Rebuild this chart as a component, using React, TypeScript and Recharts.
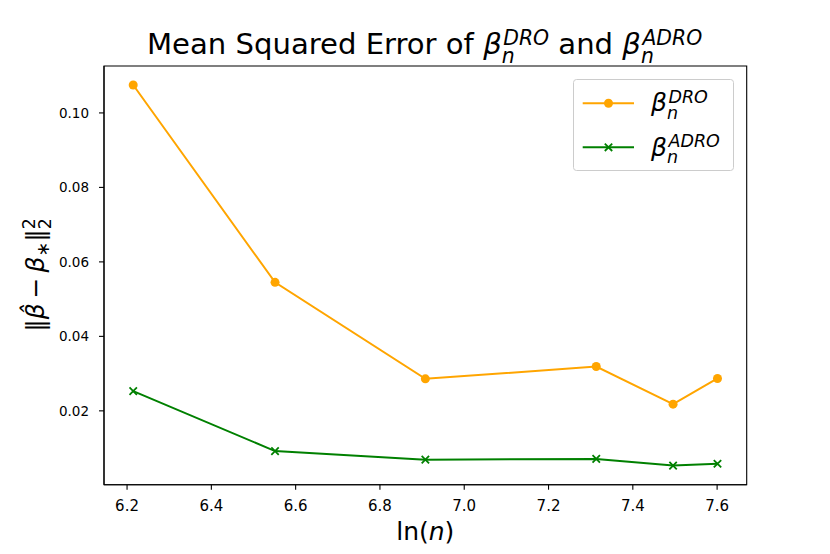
import { LineChart, Line, XAxis, YAxis, Legend, ReferenceArea } from "recharts";

const xVals = [6.2146, 6.5511, 6.9078, 7.3132, 7.4955, 7.6009];
const droVals = [0.1075, 0.0545, 0.0286, 0.0319, 0.0218, 0.0287];
const adroVals = [0.0253, 0.0092, 0.0069, 0.0071, 0.0053, 0.0058];

const xTicks = [6.2, 6.4, 6.6, 6.8, 7.0, 7.2, 7.4, 7.6];
const yTicks = [0.02, 0.04, 0.06, 0.08, 0.1];

const rows = xVals.map((x, i) => ({ x, dro: droVals[i], adro: adroVals[i] }));

const ORANGE = "#ffa500";
const GREEN = "#008000";
const FONT = "DejaVu Sans";

const xDomain = [6.1453, 7.6702];
const yDomain = [0.00017, 0.1126];

function Cross(props: any) {
  const { cx, cy, index } = props;
  if (cx == null || cy == null) return <g key={`c-${index}`} />;
  const s = 3.7;
  return (
    <path
      key={`c-${index}`}
      d={`M${cx - s},${cy - s}L${cx + s},${cy + s}M${cx - s},${cy + s}L${cx + s},${cy - s}`}
      stroke={GREEN}
      strokeWidth={1.8}
      fill="none"
    />
  );
}

// beta with stacked sup/sub, drawn as two texts sharing the same start
function Beta({ x, y, size, sup }: { x: number; y: number; size: number; sup: string }) {
  const small = size * 0.7;
  return (
    <g fontFamily={FONT}>
      <text x={x} y={y} fontSize={size} fill="#000">
        <tspan fontStyle="italic">β</tspan>
        <tspan fontStyle="italic" fontSize={small} dx={1.5} dy={-0.33 * size}>
          {sup}
        </tspan>
      </text>
      <text x={x} y={y} fontSize={size} fill="#000">
        <tspan fontStyle="italic" fill="transparent">β</tspan>
        <tspan fontStyle="italic" fontSize={small} dy={0.3 * size}>
          n
        </tspan>
      </text>
    </g>
  );
}

function LegendBox() {
  return (
    <svg width={161} height={92} style={{ display: "block" }}>
      <rect x={0.5} y={0.5} width={160} height={91} rx={3} fill="#fff" fillOpacity={0.8} stroke="#cccccc" />
      <line x1={9.7} x2={61} y1={24.3} y2={24.3} stroke={ORANGE} strokeWidth={2} />
      <circle cx={35.5} cy={24.3} r={4.5} fill={ORANGE} />
      <line x1={9.7} x2={61} y1={68.3} y2={68.3} stroke={GREEN} strokeWidth={2} />
      <Cross cx={35.5} cy={68.3} index={0} />
      <Beta x={78} y={32} size={25} sup="DRO" />
      <Beta x={78} y={76.5} size={25} sup="ADRO" />
    </svg>
  );
}

export default function App() {
  const ts = 29.1;
  const sm = ts * 0.7;
  const yl = 25;
  return (
    <div style={{ position: "absolute", left: 0, top: 0, width: 830, height: 554, background: "#fff" }}>
      <LineChart width={830} height={554} data={rows} margin={{ top: 66, right: 83.3, bottom: 39.3, left: 44 }}>
        <XAxis
          dataKey="x"
          type="number"
          domain={xDomain}
          allowDataOverflow
          ticks={xTicks}
          interval={0}
          tickFormatter={(v: number) => v.toFixed(1)}
          tick={{ fontSize: 15, fill: "#000", fontFamily: FONT }}
          tickSize={5}
          tickMargin={10.5}
          height={30}
          axisLine={{ stroke: "#000", strokeWidth: 1.1 }}
          tickLine={{ stroke: "#000", strokeWidth: 1.1 }}
        />
        <YAxis
          type="number"
          domain={yDomain}
          allowDataOverflow
          ticks={yTicks}
          interval={0}
          tickFormatter={(v: number) => v.toFixed(2)}
          tick={{ fontSize: 13.5, fill: "#000", fontFamily: FONT }}
          tickSize={5}
          tickMargin={10}
          width={60}
          axisLine={{ stroke: "#000", strokeWidth: 1.1 }}
          tickLine={{ stroke: "#000", strokeWidth: 1.1 }}
        />
        {/* frame around the plot area */}
        <ReferenceArea
          x1={xDomain[0]}
          x2={xDomain[1]}
          y1={yDomain[0]}
          y2={yDomain[1]}
          fill="none"
          fillOpacity={0}
          stroke="#000"
          strokeWidth={1.1}
          ifOverflow="visible"
        />
        <Legend
          layout="vertical"
          align="center"
          verticalAlign="middle"
          wrapperStyle={{ left: 573, top: 79, width: 161, height: 92 }}
          content={() => <LegendBox />}
        />
        <Line
          dataKey="dro"
          stroke={ORANGE}
          strokeWidth={2}
          dot={{ r: 4.5, fill: ORANGE, stroke: ORANGE, strokeWidth: 0 }}
          activeDot={false}
          isAnimationActive={false}
        />
        <Line
          dataKey="adro"
          stroke={GREEN}
          strokeWidth={2}
          dot={(p: any) => <Cross key={`x-${p.index}`} {...p} />}
          activeDot={false}
          isAnimationActive={false}
        />
      </LineChart>

      <svg
        width={830}
        height={554}
        style={{ position: "absolute", left: 0, top: 0, pointerEvents: "none" }}
        fontFamily={FONT}
      >
        {/* title */}
        <text x={147} y={54.3} fontSize={ts} fill="#000" style={{ whiteSpace: "pre" }}>
          <tspan>{"Mean Squared Error of "}</tspan>
          <tspan fontStyle="italic">β</tspan>
          <tspan fontStyle="italic" fontSize={sm} dx={1.5} dy={-9.3}>DRO</tspan>
          <tspan dy={9.3}>{" and "}</tspan>
          <tspan fontStyle="italic">β</tspan>
          <tspan fontStyle="italic" fontSize={sm} dx={1.5} dy={-9.3}>ADRO</tspan>
        </text>
        <text x={147} y={54.3} fontSize={ts} fill="transparent" style={{ whiteSpace: "pre" }}>
          <tspan>{"Mean Squared Error of "}</tspan>
          <tspan fontStyle="italic">β</tspan>
          <tspan fontStyle="italic" fontSize={sm} dy={8.4} fill="#000">n</tspan>
        </text>
        <text x={147} y={54.3} fontSize={ts} fill="transparent" style={{ whiteSpace: "pre" }}>
          <tspan>{"Mean Squared Error of "}</tspan>
          <tspan fontStyle="italic">β</tspan>
          <tspan fontStyle="italic" fontSize={sm} dx={1.5}>DRO</tspan>
          <tspan>{" and "}</tspan>
          <tspan fontStyle="italic">β</tspan>
          <tspan fontStyle="italic" fontSize={sm} dy={8.4} fill="#000">n</tspan>
        </text>

        {/* x label */}
        <text x={425.3} y={540} fontSize={25} fill="#000" textAnchor="middle">
          <tspan>ln(</tspan>
          <tspan fontStyle="italic">n</tspan>
          <tspan>)</tspan>
        </text>

        {/* y label */}
        <g transform="translate(44,275) rotate(-90)">
          <text x={0} y={0} fontSize={yl} fill="#000" textAnchor="middle" style={{ whiteSpace: "pre" }}>
            <tspan>‖</tspan>
            <tspan fontStyle="italic">{"β\u0302"}</tspan>
            <tspan>{"\u2009−\u2009"}</tspan>
            <tspan fontStyle="italic">β</tspan>
            <tspan fontSize={yl * 0.7} dy={5}>∗</tspan>
            <tspan dy={-5}>‖</tspan>
            <tspan fontSize={yl * 0.7} dy={-9}>2</tspan>
          </text>
          <text x={0} y={0} fontSize={yl} fill="transparent" textAnchor="middle" style={{ whiteSpace: "pre" }}>
            <tspan>‖</tspan>
            <tspan fontStyle="italic">{"β\u0302"}</tspan>
            <tspan>{"\u2009−\u2009"}</tspan>
            <tspan fontStyle="italic">β</tspan>
            <tspan fontSize={yl * 0.7} dy={5}>∗</tspan>
            <tspan dy={-5}>‖</tspan>
            <tspan fontSize={yl * 0.7} dy={7} fill="#000">2</tspan>
          </text>
        </g>
      </svg>
    </div>
  );
}
